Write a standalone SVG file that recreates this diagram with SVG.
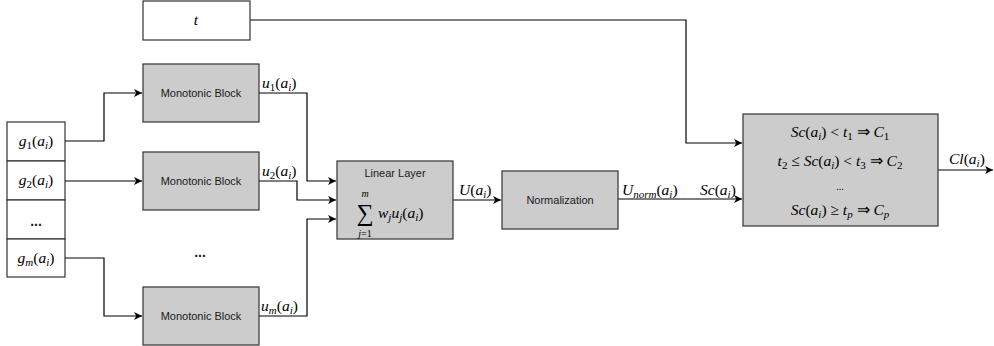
<svg xmlns="http://www.w3.org/2000/svg" width="994" height="346" viewBox="0 0 994 346">
<style>
.box{fill:#fff;stroke:#333;stroke-width:1.2}
.blk{fill:#cccccc;stroke:#333;stroke-width:1.2}
.lbl{font-family:"Liberation Sans",Arial,sans-serif;font-size:11px;fill:#1a1a1a;text-anchor:middle}
.dots{font-family:"Liberation Sans",Arial,sans-serif;font-size:14px;font-weight:bold;fill:#1a1a1a;text-anchor:middle}
.m{font-family:"Liberation Serif","Times New Roman",serif;font-style:italic;font-size:15.5px;fill:#000}
.c{text-anchor:middle}
.n{font-style:normal}
.s{font-size:11px}
.conn path{fill:none;stroke:#000;stroke-width:1.2}
</style>
<defs>
<marker id="ah" markerUnits="userSpaceOnUse" markerWidth="10" markerHeight="10" refX="8" refY="4" orient="auto">
<path d="M0,0 L8,4 L0,8 L2.2,4 z" fill="#000"/>
</marker>
</defs>

<g class="conn">
<path d="M250,20 H686 V143 H742" marker-end="url(#ah)"/>
<path d="M65,141 H104 V93 H142" marker-end="url(#ah)"/>
<path d="M65,181 H142" marker-end="url(#ah)"/>
<path d="M65,258 H104 V316 H142" marker-end="url(#ah)"/>
<path d="M259,93 H307 V181 H336" marker-end="url(#ah)"/>
<path d="M259,181 H297 V200 H336" marker-end="url(#ah)"/>
<path d="M259,316 H307 V219 H336" marker-end="url(#ah)"/>
<path d="M453,200 H501" marker-end="url(#ah)"/>
<path d="M618,199 H742" marker-end="url(#ah)"/>
<path d="M938,170 H993" marker-end="url(#ah)"/>
</g>

<g id="t-node">
<rect class="box" x="143" y="1" width="107" height="39"/>
<text class="m c" x="196" y="25">t</text>
</g>

<g id="inputs">
<rect class="box" x="7" y="122" width="58" height="39"/>
<rect class="box" x="7" y="161" width="58" height="39"/>
<rect class="box" x="7" y="200" width="58" height="39"/>
<rect class="box" x="7" y="239" width="58" height="38"/>
<text class="m c" x="36" y="146">g<tspan class="s n" dy="3">1</tspan><tspan class="n" dy="-3">(</tspan>a<tspan class="s" dy="3">i</tspan><tspan class="n" dy="-3">)</tspan></text>
<text class="m c" x="36" y="185">g<tspan class="s n" dy="3">2</tspan><tspan class="n" dy="-3">(</tspan>a<tspan class="s" dy="3">i</tspan><tspan class="n" dy="-3">)</tspan></text>
<text class="dots" x="36" y="226">...</text>
<text class="m c" x="36" y="263">g<tspan class="s" dy="3">m</tspan><tspan class="n" dy="-3">(</tspan>a<tspan class="s" dy="3">i</tspan><tspan class="n" dy="-3">)</tspan></text>
</g>

<g id="mono1">
<rect class="blk" x="143" y="64" width="116" height="58"/>
<text class="lbl" x="201" y="97">Monotonic Block</text>
</g>
<g id="mono2">
<rect class="blk" x="143" y="152" width="116" height="58"/>
<text class="lbl" x="201" y="185">Monotonic Block</text>
</g>
<text class="dots" x="200" y="257">...</text>
<g id="mono3">
<rect class="blk" x="143" y="287" width="116" height="58"/>
<text class="lbl" x="201" y="320">Monotonic Block</text>
</g>

<g id="edge-labels">
<text class="m" x="262" y="88">u<tspan class="s n" dy="3">1</tspan><tspan class="n" dy="-3">(</tspan>a<tspan class="s" dy="3">i</tspan><tspan class="n" dy="-3">)</tspan></text>
<text class="m" x="262" y="176">u<tspan class="s n" dy="3">2</tspan><tspan class="n" dy="-3">(</tspan>a<tspan class="s" dy="3">i</tspan><tspan class="n" dy="-3">)</tspan></text>
<text class="m" x="261" y="311">u<tspan class="s" dy="3">m</tspan><tspan class="n" dy="-3">(</tspan>a<tspan class="s" dy="3">i</tspan><tspan class="n" dy="-3">)</tspan></text>
<text class="m" x="459" y="195">U<tspan class="n">(</tspan>a<tspan class="s" dy="3">i</tspan><tspan class="n" dy="-3">)</tspan></text>
<text class="m" x="622" y="195">U<tspan class="s" dy="3">norm</tspan><tspan class="n" dy="-3">(</tspan>a<tspan class="s" dy="3">i</tspan><tspan class="n" dy="-3">)</tspan></text>
<text class="m" x="700" y="195">Sc<tspan class="n">(</tspan>a<tspan class="s" dy="3">i</tspan><tspan class="n" dy="-3">)</tspan></text>
<text class="m" x="949" y="164">Cl<tspan class="n">(</tspan>a<tspan class="s" dy="3">i</tspan><tspan class="n" dy="-3">)</tspan></text>
</g>

<g id="linear">
<rect class="blk" x="337" y="161" width="116" height="78"/>
<text class="lbl" x="395" y="177">Linear Layer</text>
<text class="m n" x="365" y="221" style="font-size:24px;text-anchor:middle">∑</text>
<text class="m s c" x="365" y="197" style="font-size:10px">m</text>
<text class="m s c" x="365" y="237" style="font-size:10px">j<tspan class="n">=1</tspan></text>
<text class="m" x="378" y="218">w<tspan class="s" dy="3">j</tspan><tspan dy="-3">u</tspan><tspan class="s" dy="3">j</tspan><tspan class="n" dy="-3">(</tspan>a<tspan class="s" dy="3">i</tspan><tspan class="n" dy="-3">)</tspan></text>
</g>

<g id="norm">
<rect class="blk" x="502" y="171" width="116" height="58"/>
<text class="lbl" x="560" y="204">Normalization</text>
</g>

<g id="classify">
<rect class="blk" x="743" y="114" width="195" height="112"/>
<text class="m c" x="840" y="137">Sc<tspan class="n">(</tspan>a<tspan class="s" dy="3">i</tspan><tspan class="n" dy="-3">) &lt; </tspan>t<tspan class="s n" dy="3">1</tspan><tspan class="n" dy="-3"> ⇒ </tspan>C<tspan class="s n" dy="3">1</tspan></text>
<text class="m c" x="840" y="166">t<tspan class="s n" dy="3">2</tspan><tspan class="n" dy="-3"> ≤ </tspan>Sc<tspan class="n">(</tspan>a<tspan class="s" dy="3">i</tspan><tspan class="n" dy="-3">) &lt; </tspan>t<tspan class="s n" dy="3">3</tspan><tspan class="n" dy="-3"> ⇒ </tspan>C<tspan class="s n" dy="3">2</tspan></text>
<text class="m n c" x="840" y="190" style="font-size:10px">...</text>
<text class="m c" x="840" y="215">Sc<tspan class="n">(</tspan>a<tspan class="s" dy="3">i</tspan><tspan class="n" dy="-3">) ≥ </tspan>t<tspan class="s" dy="3">p</tspan><tspan class="n" dy="-3"> ⇒ </tspan>C<tspan class="s" dy="3">p</tspan></text>
</g>
</svg>
